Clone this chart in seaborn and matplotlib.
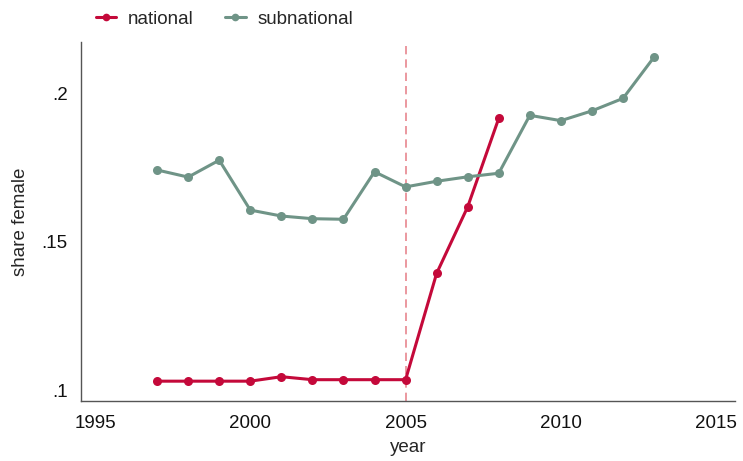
import matplotlib
matplotlib.use("Agg")
import matplotlib.pyplot as plt
import seaborn as sns
import pandas as pd

years_national = [1997, 1998, 1999, 2000, 2001, 2002, 2003, 2004, 2005, 2006, 2007, 2008]
share_national = [0.1030, 0.1030, 0.1030, 0.1030, 0.1045, 0.1035, 0.1035, 0.1035, 0.1035,
                  0.1393, 0.1617, 0.1915]

years_subnational = list(range(1997, 2014))
share_subnational = [0.1741, 0.1717, 0.1774, 0.1606, 0.1586, 0.1577, 0.1575, 0.1735, 0.1684,
                     0.1703, 0.1718, 0.1730, 0.1925, 0.1907, 0.1940, 0.1982, 0.2121]

series_names = ["national", "subnational"]
series_colors = {"national": "#C4093A", "subnational": "#6F9487"}
reform_year = 2005

x_ticks = [1995, 2000, 2005, 2010, 2015]
y_ticks = [0.1, 0.15, 0.2]
y_tick_labels = [".1", ".15", ".2"]

df = pd.concat([
    pd.DataFrame({"year": years_national, "share": share_national, "level": "national"}),
    pd.DataFrame({"year": years_subnational, "share": share_subnational, "level": "subnational"}),
])

sns.set_style("white")
plt.rcParams["font.family"] = ["Liberation Sans", "DejaVu Sans"]

fs = 13.5
fig = plt.figure(figsize=(7.43, 4.61), dpi=100)
ax = fig.add_axes([0.109, 0.130, 0.880, 0.779])

ax.axvline(reform_year, color="#E8868F", linestyle=(0, (5, 3)), linewidth=1.2, zorder=1)

sns.lineplot(data=df, x="year", y="share", hue="level", hue_order=series_names,
             palette=series_colors, marker="o", markersize=6.5, markeredgewidth=0,
             linewidth=2.2, ax=ax, zorder=3)

ax.set_xlim(1994.55, 2015.6)
ax.set_ylim(0.0963, 0.2172)
ax.set_xticks(x_ticks)
ax.set_xticklabels([str(t) for t in x_ticks])
ax.set_yticks(y_ticks)
ax.set_yticklabels(y_tick_labels)
ax.tick_params(axis="both", length=0, labelsize=fs, colors="#111111")
ax.tick_params(axis="x", pad=10)
ax.tick_params(axis="y", pad=9.5)

ax.set_xlabel("year", fontsize=fs, labelpad=5)
ax.set_ylabel("share female", fontsize=fs, labelpad=9)

for side in ["top", "right"]:
    ax.spines[side].set_visible(False)
for side in ["left", "bottom"]:
    ax.spines[side].set_color("#555555")
    ax.spines[side].set_linewidth(1.0)

handles, labels = ax.get_legend_handles_labels()
for h in handles:
    h.set_markersize(5.5)
ax.legend(handles, labels, loc="center left", bbox_to_anchor=(0.011, 1.064), ncol=2,
          frameon=False, fontsize=fs, handlelength=1.1, columnspacing=1.7,
          handletextpad=0.6, borderaxespad=0.0)

fig.savefig("out.png", dpi=100)
